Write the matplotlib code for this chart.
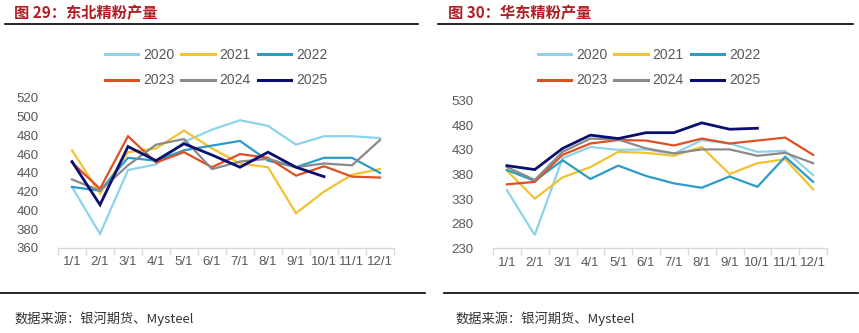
import matplotlib.pyplot as plt
from matplotlib.lines import Line2D
import numpy as np

plt.rcParams['font.family'] = ['Liberation Sans', 'Noto Sans CJK SC', 'DejaVu Sans']

# 月份标签
meses = ['1/1', '2/1', '3/1', '4/1', '5/1', '6/1', '7/1', '8/1', '9/1', '10/1', '11/1', '12/1']
anios = ['2020', '2021', '2022', '2023', '2024', '2025']

# 东北精粉产量
dongbei_2020 = [425, 375, 443, 449, 473, 486, 496, 490, 470, 479, 479, 477]
dongbei_2021 = [464, 418, 462, 466, 485, 466, 450, 446, 397, 420, 438, 444]
dongbei_2022 = [425, 421, 456, 453, 464, 469, 474, 453, 446, 456, 456, 440]
dongbei_2023 = [451, 423, 479, 451, 462, 446, 460, 456, 437, 447, 436, 435]
dongbei_2024 = [433, 421, 448, 470, 476, 444, 452, 455, 446, 450, 448, 475]
dongbei_2025 = [452, 406, 468, 453, 471, 459, 446, 462, 446, 436]

# 华东精粉产量
huadong_2020 = [348, 257, 413, 436, 430, 431, 422, 450, 443, 426, 428, 379]
huadong_2021 = [388, 331, 374, 395, 426, 424, 418, 436, 381, 403, 411, 350]
huadong_2022 = [389, 367, 409, 371, 398, 377, 362, 353, 376, 355, 416, 365]
huadong_2023 = [360, 365, 420, 443, 450, 449, 439, 453, 443, 449, 455, 420]
huadong_2024 = [395, 369, 426, 453, 451, 433, 423, 431, 431, 418, 424, 403]
huadong_2025 = [398, 390, 433, 460, 453, 465, 465, 485, 472, 474]

colores = ['#8DD3EC', '#F2C230', '#2A9DC6', '#E04E24', '#8A8A8A', '#0B0F6E']
grosores = [1.6, 1.6, 1.6, 1.6, 1.6, 2.0]

W, H = 859, 333
fig = plt.figure(figsize=(W / 100, H / 100), dpi=100)


def px_axes(x0, x1, y_top, y_bot):
    return fig.add_axes([x0 / W, 1 - y_bot / H, (x1 - x0) / W, (y_bot - y_top) / H])


def dibujar(ax, series, ylim, paso):
    x = np.arange(len(meses))
    for serie, color, lw in zip(series, colores, grosores):
        ax.plot(x[:len(serie)], serie, color=color, lw=lw, solid_joinstyle='miter')
    ax.set_xlim(-0.5, len(meses) - 0.5)
    ax.set_ylim(*ylim)
    ax.set_yticks(np.arange(ylim[0], ylim[1] + 1, paso))
    ax.set_xticks(x)
    ax.set_xticklabels(meses)
    ax.set_xticks(np.arange(-0.5, len(meses)), minor=True)
    for s in ['top', 'right', 'left']:
        ax.spines[s].set_visible(False)
    ax.spines['bottom'].set_color('#D9D9D9')
    ax.spines['bottom'].set_linewidth(1.0)
    ax.tick_params(axis='x', which='major', length=0, pad=6, labelsize=9.5, labelcolor='#595959')
    ax.tick_params(axis='x', which='minor', length=5, color='#D9D9D9', width=1.0)
    ax.tick_params(axis='y', length=0, pad=14, labelsize=9.5, labelcolor='#595959')
    ax.patch.set_alpha(0)


def leyenda(cx):
    handles = [Line2D([0], [0], color=c, lw=2.2) for c in colores]
    # matplotlib llena por columnas: reordenar para que quede por filas
    orden = [0, 3, 1, 4, 2, 5]
    fig.legend([handles[i] for i in orden], [anios[i] for i in orden], loc='center',
               bbox_to_anchor=(cx / W, 1 - 67.5 / H),
               ncol=3, frameon=False, fontsize=10, handlelength=2.4, handletextpad=0.35,
               columnspacing=0.5, labelspacing=0.85, labelcolor='#595959')


ax1 = px_axes(58, 394, 97.7, 248)
dibujar(ax1, [dongbei_2020, dongbei_2021, dongbei_2022, dongbei_2023, dongbei_2024, dongbei_2025],
        (360, 520), 20)
ax2 = px_axes(493, 827, 100.7, 248.3)
dibujar(ax2, [huadong_2020, huadong_2021, huadong_2022, huadong_2023, huadong_2024, huadong_2025],
        (230, 530), 50)

leyenda(216)
leyenda(649)

# 标题与分隔线
titulo_color = '#B01E23'
fig.text(14 / W, 1 - 13 / H, '图 29：东北精粉产量', fontsize=11, fontweight='bold',
         color=titulo_color, va='center', ha='left', family=['Noto Sans CJK SC'])
fig.text(448 / W, 1 - 13 / H, '图 30：华东精粉产量', fontsize=11, fontweight='bold',
         color=titulo_color, va='center', ha='left', family=['Noto Sans CJK SC'])

for (a, b, y) in [(5, 418, 23.5), (438, 853, 23.5), (0, 425, 293), (444, 858, 293)]:
    fig.add_artist(Line2D([a / W, b / W], [1 - y / H, 1 - y / H], color='black', lw=1.2))

fig.text(14 / W, 1 - 319 / H, '数据来源：银河期货、Mysteel', fontsize=9.5, color='#333333',
         va='center', ha='left', family=['Noto Sans CJK SC'])
fig.text(455 / W, 1 - 319 / H, '数据来源：银河期货、Mysteel', fontsize=9.5, color='#333333',
         va='center', ha='left', family=['Noto Sans CJK SC'])

fig.savefig('out.png', dpi=100)
